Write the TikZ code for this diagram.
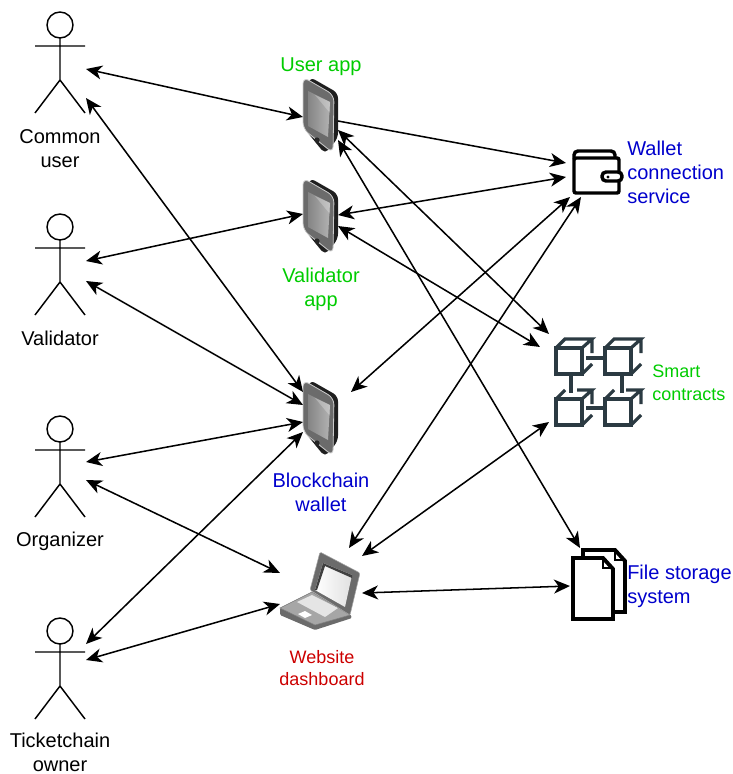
\documentclass[tikz,border=0pt]{standalone}
\usepackage{fontspec}
\setmainfont{Liberation Sans}
\usetikzlibrary{arrows.meta,calc}
\definecolor{tgreen}{HTML}{00CC00}
\definecolor{tblue}{HTML}{0000CC}
\definecolor{tred}{HTML}{CC0000}
\definecolor{cubec}{HTML}{2B3A42}
\tikzset{
  x=0.75pt,y=-0.75pt,
  link/.style={line width=1.15pt,{Stealth[length=12pt,width=10.5pt,inset=3.5pt]}-{Stealth[length=12pt,width=10.5pt,inset=3.5pt]}},
  linkone/.style={line width=1.15pt,-{Stealth[length=12pt,width=10.5pt,inset=3.5pt]}},
  lbl/.style={font=\fontsize{15}{18}\selectfont,align=center,inner sep=0pt},
  lbll/.style={lbl,align=left,anchor=west},
  small/.style={font=\fontsize{13.5}{17}\selectfont},
  box/.style={minimum width=0pt,minimum height=0pt,inner sep=0pt},
  actor/.pic={
    \draw[line width=1.1pt] (0,-38) circle (13);
    \draw[line width=1.1pt] (0,-25) -- (0,17) (-25,-17) -- (25,-17) (-25,50) -- (0,17) -- (25,50);
  },
  phone/.pic={
    \fill[black!88,rounded corners=4pt] (-10,-39) -- (18,-23) -- (18,22) -- (5,38) -- (-17,11) -- cycle;
    \fill[black!58,draw=black!20,line width=.6pt,rounded corners=5pt] (-17,-39) -- (14,-21) -- (13,37) -- (-17,13) -- cycle;
    \shade[left color=black!48,right color=black!30] (-12,-25) -- (10,-14) -- (8,21) -- (-12,10) -- cycle;
    \fill[white,opacity=.25] (-5,-21) -- (10,-14) -- (10,-3) -- cycle;
    \fill[black!85] (-3,24) circle (2.6);
  },
  laptop/.pic={
    \fill[black!58,rounded corners=1pt] (-40,8) -- (-40,15) -- (-5,30) -- (32,18) -- (30,14) -- (-8,-8) -- cycle;
    \fill[black!35,draw=black!50,line width=.4pt] (-40,8) -- (-8,-8) -- (30,15) -- (-5,25) -- cycle;
    \fill[black!10] (-23,2) -- (-8,-5) -- (18,8) -- (5,17) -- cycle;
    \fill[white] (-22,14) -- (-15,11) -- (-8,15) -- (-15,18) -- cycle;
    \fill[black!58,draw=black!35,line width=.4pt,rounded corners=1pt] (0,-48) -- (40,-27) -- (30,15) -- (-10,-10) -- cycle;
    \shade[left color=white,right color=black!12] (3,-37) -- (32,-25) -- (25,7) -- (-5,-10) -- cycle;
    \fill[black!75] (3,-37) -- (32,-25) -- (32,-22) -- (5,-34) -- (-3,-10) -- (-5,-10) -- cycle;
  },
  walleticon/.pic={
    \draw[line width=2.6pt,rounded corners=1.5pt] (-23,-14) -- (-23,21) -- (22,21) -- (22,-14) -- cycle;
    \draw[line width=2.6pt,rounded corners=3pt] (-23,-13) -- (-23,-21) -- (18,-21) -- (18,-13);
    \draw[line width=2.6pt,rounded corners=3pt,fill=white] (5,0) rectangle (25,9);
    \fill (11,5) circle (1.6);
  },
  cubeicon/.pic={
    \draw[cubec,line width=2.4pt] (-13,-13) rectangle (13,13);
    \draw[cubec,line width=2.4pt] (-13,-13) -- (-4,-22) -- (23,-22) -- (13,-13) (23,-22) -- (23,-8) (13,13) -- (23,3);
  },
  cubeiconb/.pic={
    \draw[cubec,line width=2.4pt] (-13,-13) rectangle (13,13);
    \draw[cubec,line width=2.4pt] (-13,-13) -- (-4,-22) (8,-22) -- (23,-22) -- (13,-13) (23,-22) -- (23,-8) (13,13) -- (23,3);
  },
  fileicon/.pic={
    \draw[line width=2.9pt] (-15,-27) -- (-15,-35) -- (17,-35) -- (27,-24) -- (27,27) -- (15,27);
    \draw[line width=1.8pt] (17,-35) -- (17,-25) -- (27,-25);
    \draw[line width=2.9pt,fill=white] (-25,-27) -- (5,-27) -- (15,-16) -- (15,34) -- (-25,34) -- cycle;
    \draw[line width=1.8pt] (5,-27) -- (5,-17) -- (15,-17);
  }
}
\begin{document}
\begin{tikzpicture}
\useasboundingbox (0,0) rectangle (732,774);
\node[box] (a1) at (60,63) {};
\node[box] (a2) at (60,265) {};
\node[box] (a3) at (60,467) {};
\node[box] (a4) at (60,669) {};
\node[box] (p1) at (320,116) {};
\node[box] (p2) at (320,217) {};
\node[box] (p3) at (320,419) {};
\node[box] (w) at (597,172) {};
\node[box] (s) at (597,382) {};
\node[box] (l) at (320,600) {};
\node[box] (f) at (598,585) {};
\pic at (a1) {actor};
\pic at (a2) {actor};
\pic at (a3) {actor};
\pic at (a4) {actor};
\pic at (p1) {phone};
\pic at (p2) {phone};
\pic at (p3) {phone};
\pic at (l) {laptop};
\pic at (w) {walleticon};
\pic at (f) {fileicon};
\pic at ($(s)+(-28,-21)$) {cubeicon};
\pic at ($(s)+(21,-21)$) {cubeicon};
\pic at ($(s)+(-28,30)$) {cubeiconb};
\pic at ($(s)+(21,30)$) {cubeiconb};
\draw[cubec,line width=2.4pt] ($(s)+(-11,-24)$) -- ($(s)+(8,-24)$)
  ($(s)+(-11,26)$) -- ($(s)+(8,26)$)
  ($(s)+(-26,-7)$) -- ($(s)+(-26,11)$)
  ($(s)+(25,-7)$) -- ($(s)+(25,11)$);
\node[lbl] (t1) at (60,149) {Common\\user};
\node[lbl] (t2) at (60,338) {Validator};
\node[lbl] (t3) at (60,541) {Organizer};
\node[lbl] (t4) at (60,752) {Ticketchain\\owner};
\node[lbl,text=tgreen] (t5) at (321,67) {User app};
\node[lbl,text=tgreen] (t6) at (321,289) {Validator\\app};
\node[lbl,text=tblue] (t7) at (321,492) {Blockchain\\wallet};
\node[lbl,small,text=tred] (t8) at (322,668) {Website\\dashboard};
\node[lbll,text=tblue] (t9) at (627,172) {Wallet\\connection\\service};
\node[lbll,small,text=tgreen] (t10) at (652,383) {Smart\\contracts};
\node[lbll,text=tblue] (t11) at (627,586) {File storage\\system};
\draw[link] ([shift={(26,6)}]a1.center) -- ([shift={(-17,1)}]p1.center);
\draw[link] ([shift={(26,35)}]a1.center) -- ([shift={(-17,-27)}]p3.center);
\draw[link] ([shift={(26,-4)}]a2.center) -- ([shift={(-17,-3)}]p2.center);
\draw[link] ([shift={(26,16)}]a2.center) -- ([shift={(-17,-14)}]p3.center);
\draw[link] ([shift={(26,-5)}]a3.center) -- ([shift={(-17,3)}]p3.center);
\draw[link] ([shift={(26,13)}]a3.center) -- ([shift={(-40,-27)}]l.center);
\draw[link] ([shift={(26,-25)}]a4.center) -- ([shift={(-17,13)}]p3.center);
\draw[link] ([shift={(26,-9)}]a4.center) -- ([shift={(-40,4)}]l.center);
\draw[linkone] ([shift={(18,5)}]p1.center) -- ([shift={(-31,-9)}]w.center);
\draw[link] ([shift={(18,-2)}]p2.center) -- ([shift={(-31,5)}]w.center);
\draw[link] ([shift={(18,14)}]p1.center) -- ([shift={(-48,-48)}]s.center);
\draw[link] ([shift={(18,9)}]p2.center) -- ([shift={(-57,-35)}]s.center);
\draw[link] ([shift={(18,24)}]p1.center) -- ([shift={(-18,-37)}]f.center);
\draw[link] ([shift={(31,-27)}]p3.center) -- ([shift={(-27,25)}]w.center);
\draw[link] ([shift={(29,-52)}]l.center) -- ([shift={(-16,25)}]w.center);
\draw[link] ([shift={(42,-44)}]l.center) -- ([shift={(-48,40)}]s.center);
\draw[link] ([shift={(42,-7)}]l.center) -- ([shift={(-28,1)}]f.center);
\end{tikzpicture}
\end{document}
